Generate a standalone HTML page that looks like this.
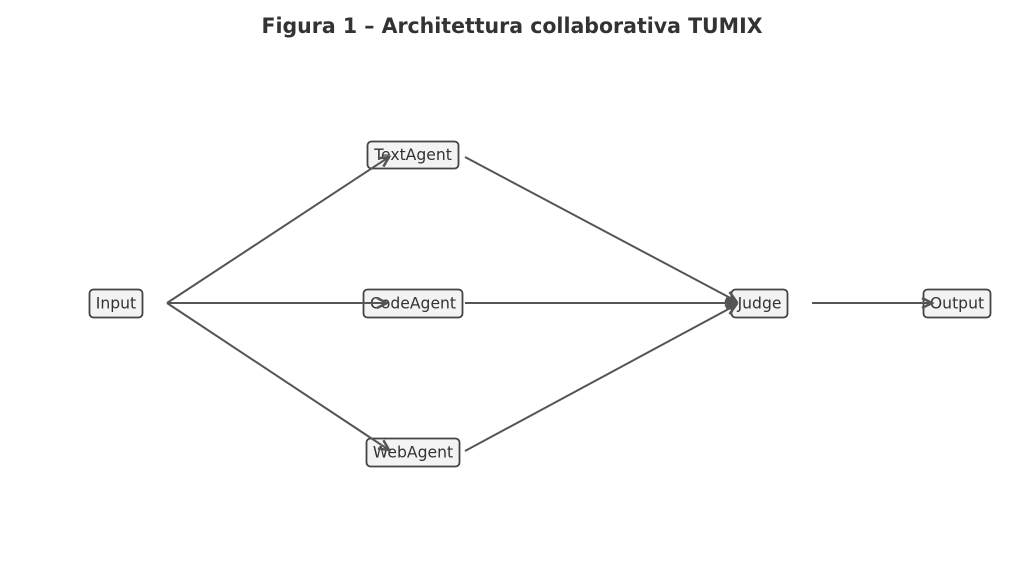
<!DOCTYPE html>
<html>
<head>
<meta charset="utf-8">
<style>
html,body{margin:0;padding:0;background:#fff;}
svg{display:block;}
</style>
</head>
<body>
<svg width="1024" height="569" viewBox="0 0 1024 569" xmlns="http://www.w3.org/2000/svg">
<defs>
<marker id="ah" markerUnits="userSpaceOnUse" markerWidth="20" markerHeight="20" refX="0" refY="0" viewBox="-12 -8 14 16" orient="auto">
<path d="M-8,-4 L0,0 L-8,4" fill="none" stroke="#555" stroke-width="2" stroke-linejoin="miter"/>
</marker>
</defs>
<rect width="1024" height="569" fill="#fff"/>
<text x="512" y="33" text-anchor="middle" font-family="'DejaVu Sans', 'Liberation Sans', sans-serif" font-weight="bold" font-size="21" fill="#333" textLength="501" lengthAdjust="spacingAndGlyphs">Figura 1 – Architettura collaborativa TUMIX</text>

<g fill="#f3f3f3" stroke="#444" stroke-width="1.8">
<rect x="89.5" y="289.5" width="53" height="28" rx="4"/>
<rect x="367.5" y="141.5" width="91" height="27" rx="4"/>
<rect x="363.5" y="289.5" width="99" height="28" rx="4"/>
<rect x="366.5" y="438.5" width="93" height="28" rx="4"/>
<rect x="731.5" y="289.5" width="56" height="28" rx="4"/>
<rect x="923.5" y="289.5" width="67" height="28" rx="4"/>
</g>

<g font-family="'DejaVu Sans', 'Liberation Sans', sans-serif" font-size="15.6" fill="#333" text-anchor="middle">
<text x="116" y="308.5">Input</text>
<text x="413" y="160">TextAgent</text>
<text x="413" y="308.5">CodeAgent</text>
<text x="413" y="457.5">WebAgent</text>
<text x="759.5" y="308.5">Judge</text>
<text x="957" y="308.5">Output</text>
</g>

<g stroke="#555" stroke-width="2" fill="none" marker-end="url(#ah)">
<line x1="167" y1="303" x2="389" y2="157"/>
<line x1="167" y1="303" x2="387" y2="303"/>
<line x1="167" y1="303" x2="389" y2="450"/>
<line x1="465" y1="157" x2="736" y2="301"/>
<line x1="465" y1="303" x2="736" y2="303"/>
<line x1="465" y1="451" x2="736" y2="305"/>
<line x1="812" y1="303" x2="932" y2="303"/>
</g>
</svg>
</body>
</html>
